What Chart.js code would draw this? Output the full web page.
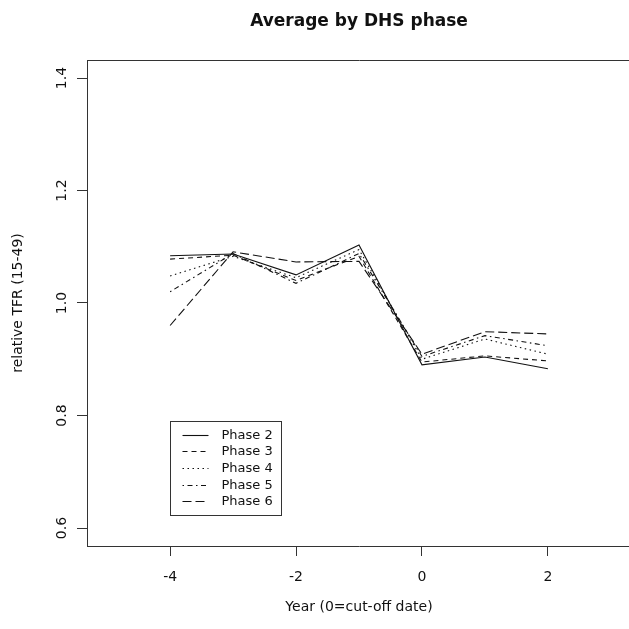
<!DOCTYPE html>
<html>
<head>
<meta charset="utf-8">
<script src="https://cdn.jsdelivr.net/npm/chart.js@4.4.1/dist/chart.umd.min.js"></script>
<style>
  html, body { margin: 0; padding: 0; overflow: hidden; background: #fff; }
  #wrap { width: 629px; height: 629px; overflow: hidden; }
  canvas { display: block; }
</style>
</head>
<body>
<div id="wrap"><canvas id="c" width="631" height="629" style="width:631px;height:629px"></canvas></div>
<script>
// ---- data ----
const years = [-4, -3, -2, -1, 0, 1, 2];
const seriesNames = ["Phase 2", "Phase 3", "Phase 4", "Phase 5", "Phase 6"];
const phase2 = [1.084, 1.087, 1.050, 1.103, 0.890, 0.904, 0.883];
const phase3 = [1.078, 1.085, 1.040, 1.083, 0.895, 0.906, 0.897];
const phase4 = [1.048, 1.083, 1.045, 1.095, 0.900, 0.936, 0.909];
const phase5 = [1.020, 1.088, 1.035, 1.088, 0.905, 0.942, 0.924];
const phase6 = [0.960, 1.091, 1.073, 1.074, 0.909, 0.949, 0.945];
const xTicks = [-4, -2, 0, 2];
const xTickLabels = ["-4", "-2", "0", "2"];
const yTicks = [0.6, 0.8, 1.0, 1.2, 1.4];
const yTickLabels = ["0.6", "0.8", "1.0", "1.2", "1.4"];

// ---- styles ----
const FONT = "'DejaVu Sans', sans-serif";
const LINE = '#111';
const AXIS = '#333';
const dashes = [[], [5, 4], [1.5, 3.5], [1.5, 3.5, 5, 3.5], [9, 4]];
const allValues = [phase2, phase3, phase4, phase5, phase6];

const datasets = seriesNames.map((name, i) => ({
  label: name,
  data: years.map((yr, j) => ({ x: yr, y: allValues[i][j] })),
  borderColor: LINE,
  borderWidth: 1.1,
  borderDash: dashes[i],
  pointRadius: 0,
  tension: 0,
  fill: false
}));

const legendInside = {
  id: 'legendInside',
  afterDatasetsDraw(chart) {
    const ctx = chart.ctx;
    const xs = chart.scales.x, ys = chart.scales.y;
    const left = Math.round(xs.getPixelForValue(-4)) + 0.5;
    const top = Math.round(ys.getPixelForValue(0.79)) + 0.5;
    const w = 111, rowH = 16.7, h = 94;
    ctx.save();
    ctx.strokeStyle = AXIS;
    ctx.lineWidth = 1;
    ctx.setLineDash([]);
    ctx.fillStyle = '#fff';
    ctx.fillRect(left, top, w, h);
    ctx.strokeRect(left, top, w, h);
    ctx.font = "13px " + FONT;
    ctx.textBaseline = 'middle';
    ctx.textAlign = 'left';
    chart.data.datasets.forEach((ds, i) => {
      const cy = Math.round(top + 13 + i * rowH) + 0.5;
      ctx.strokeStyle = LINE;
      ctx.lineWidth = 1.1;
      ctx.setLineDash(ds.borderDash);
      ctx.beginPath();
      ctx.moveTo(left + 12, cy);
      ctx.lineTo(left + 38, cy);
      ctx.stroke();
      ctx.setLineDash([]);
      ctx.fillStyle = '#111';
      ctx.fillText(ds.label, left + 51, cy);
    });
    ctx.restore();
  }
};

new Chart(document.getElementById('c'), {
  type: 'line',
  data: { datasets },
  options: {
    responsive: false,
    maintainAspectRatio: false,
    devicePixelRatio: 1,
    animation: false,
    layout: { padding: 0 },
    plugins: { legend: { display: false }, tooltip: { enabled: false }, title: { display: false } },
    scales: {
      x: {
        type: 'linear', position: 'bottom', min: -5.32, max: 3.32,
        afterBuildTicks(s) { s.ticks = xTicks.map(v => ({ value: v })); },
        afterFit(s) { s.height = 83; },
        ticks: {
          color: '#111', padding: 13, maxRotation: 0, minRotation: 0, autoSkip: false,
          font: { family: FONT, size: 14 },
          callback(v) { const k = xTicks.indexOf(v); return k >= 0 ? xTickLabels[k] : ''; }
        },
        grid: { drawOnChartArea: false, drawTicks: true, tickLength: 10, color: AXIS, lineWidth: 1 },
        border: { display: true, color: AXIS, width: 1 },
        title: { display: true, text: 'Year (0=cut-off date)', color: '#111', font: { family: FONT, size: 14 }, padding: { top: 0, bottom: 13 } }
      },
      xTop: {
        type: 'linear', position: 'top', min: -5.32, max: 3.32,
        afterFit(s) { s.height = 60; },
        ticks: { display: false },
        grid: { display: false, drawTicks: false },
        border: { display: true, color: AXIS, width: 1 },
        title: { display: true, text: 'Average by DHS phase', color: '#111', font: { family: FONT, size: 17, weight: 'bold' }, padding: { top: 11, bottom: 0 } }
      },
      y: {
        type: 'linear', position: 'left', min: 0.568, max: 1.432,
        afterBuildTicks(s) { s.ticks = yTicks.map(v => ({ value: v })); },
        afterFit(s) { s.width = 87; },
        ticks: {
          color: '#111', padding: 4, minRotation: 90, maxRotation: 90, crossAlign: 'center', autoSkip: false,
          font: { family: FONT, size: 14 },
          callback(v) { const k = yTicks.findIndex(t => Math.abs(t - v) < 1e-9); return k >= 0 ? yTickLabels[k] : ''; }
        },
        grid: { drawOnChartArea: false, drawTicks: true, tickLength: 10, color: AXIS, lineWidth: 1 },
        border: { display: true, color: AXIS, width: 1 },
        title: { display: true, text: 'relative TFR (15-49)', color: '#111', font: { family: FONT, size: 14 }, padding: { top: 10, bottom: 0 } }
      }
    }
  },
  plugins: [legendInside]
});
</script>
</body>
</html>
